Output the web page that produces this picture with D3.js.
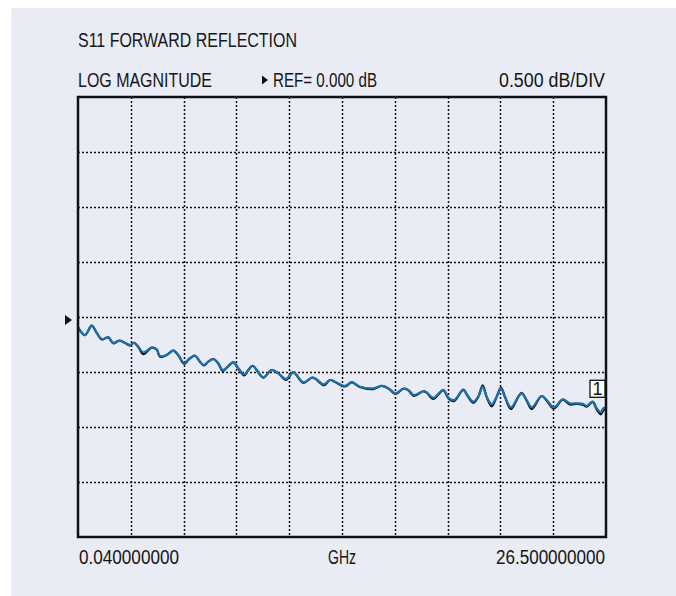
<!DOCTYPE html>
<html>
<head>
<meta charset="utf-8">
<script src="https://cdn.jsdelivr.net/npm/d3@7"></script>
<style>
    body { margin: 0; padding: 0; background: #fff; }
    svg { display: block; }
    text { font-family: "Liberation Sans Narrow", "Arial Narrow", "Liberation Sans", Arial, sans-serif; fill: #161616; }
</style>
</head>
<body>
<div id="chart"></div>
<script>
// frequency points of the trace (GHz)
var freqGHz = [0.040,0.391,0.727,0.977,1.228,1.558,1.809,2.110,2.395,2.646,2.846,3.062,3.312,3.733,3.984,4.149,4.485,4.816,5.066,5.352,
    5.652,5.903,6.154,6.354,6.570,6.820,7.071,7.291,7.492,7.823,8.073,8.374,8.574,8.795,8.995,9.326,9.747,10.078,10.464,10.830,
    11.331,11.752,11.917,12.368,12.669,12.919,13.420,13.756,14.172,14.839,15.259,15.590,15.961,16.342,16.592,16.878,17.344,17.515,17.846,18.347,
    18.597,18.883,19.349,19.549,19.850,20.100,20.321,20.521,20.772,21.022,21.238,21.438,21.739,22.105,22.275,22.526,22.776,23.277,23.528,23.894,
    24.330,24.696,25.031,25.362,25.533,25.833,26.034,26.234,26.364,26.500];

// S11 log magnitude (dB), blue trace
var s11Blue = [-0.094,-0.164,-0.079,-0.145,-0.203,-0.185,-0.239,-0.215,-0.234,-0.255,-0.234,-0.270,-0.321,-0.279,-0.294,-0.355,-0.345,-0.306,-0.345,-0.415,
    -0.375,-0.352,-0.406,-0.436,-0.406,-0.382,-0.421,-0.482,-0.461,-0.412,-0.466,-0.521,-0.482,-0.443,-0.482,-0.548,-0.482,-0.512,-0.564,-0.503,
    -0.594,-0.552,-0.557,-0.612,-0.573,-0.588,-0.627,-0.594,-0.634,-0.648,-0.627,-0.648,-0.694,-0.652,-0.664,-0.709,-0.675,-0.685,-0.734,-0.664,
    -0.734,-0.755,-0.664,-0.709,-0.770,-0.725,-0.634,-0.725,-0.794,-0.725,-0.648,-0.725,-0.821,-0.725,-0.694,-0.755,-0.821,-0.718,-0.755,-0.821,
    -0.748,-0.785,-0.785,-0.791,-0.809,-0.770,-0.830,-0.866,-0.830,-0.821];

// S11 log magnitude (dB), black trace underneath
var s11Black = [-0.094,-0.164,-0.079,-0.145,-0.203,-0.185,-0.239,-0.215,-0.236,-0.258,-0.234,-0.272,-0.338,-0.279,-0.296,-0.362,-0.345,-0.306,-0.347,-0.425,
    -0.375,-0.352,-0.408,-0.440,-0.406,-0.382,-0.423,-0.490,-0.461,-0.412,-0.468,-0.530,-0.482,-0.443,-0.484,-0.552,-0.482,-0.512,-0.572,-0.503,
    -0.598,-0.552,-0.559,-0.620,-0.573,-0.590,-0.632,-0.594,-0.636,-0.655,-0.627,-0.650,-0.700,-0.652,-0.666,-0.718,-0.675,-0.688,-0.745,-0.664,
    -0.738,-0.765,-0.660,-0.712,-0.780,-0.725,-0.622,-0.728,-0.812,-0.725,-0.642,-0.728,-0.838,-0.725,-0.690,-0.760,-0.836,-0.718,-0.760,-0.832,
    -0.752,-0.795,-0.790,-0.800,-0.815,-0.772,-0.840,-0.885,-0.850,-0.826];

var title = "S11 FORWARD REFLECTION";
var formatLabel = "LOG MAGNITUDE";
var refLabel = "REF= 0.000 dB";
var scaleLabel = "0.500 dB/DIV";
var startLabel = "0.040000000";
var unitLabel = "GHz";
var stopLabel = "26.500000000";
var markerLabel = "1";

var startGHz = 0.04, stopGHz = 26.5;
var refDb = 0, dbPerDiv = 0.5;
var xDivs = 10, yDivs = 8, refDiv = 4;   // reference line sits 4 divisions from the top

var W = 676, H = 596;
var plot = { left: 78, right: 606, top: 97, bottom: 537 };

var svg = d3.select("#chart").append("svg")
    .attr("width", W)
    .attr("height", H);

svg.append("rect")
    .attr("x", 11).attr("y", 8)
    .attr("width", W - 11).attr("height", H - 8)
    .attr("fill", "#e9ecf5");

var x = d3.scaleLinear()
    .domain([startGHz, stopGHz])
    .range([plot.left, plot.right]);

var yTop = refDb + refDiv * dbPerDiv;
var y = d3.scaleLinear()
    .domain([yTop - yDivs * dbPerDiv, yTop])
    .range([plot.bottom, plot.top]);

// dotted graticule
var xStep = (stopGHz - startGHz) / xDivs;
var xGrid = d3.range(1, xDivs).map(function(i) { return startGHz + i * xStep; });
var yGrid = d3.range(1, yDivs).map(function(i) { return yTop - i * dbPerDiv; });

var grid = svg.append("g")
    .attr("stroke", "#111")
    .attr("stroke-width", 1.5)
    .attr("stroke-dasharray", "2,2");

grid.selectAll("line.v")
    .data(xGrid)
    .enter().append("line")
    .attr("class", "v")
    .attr("x1", function(d) { return Math.round(x(d)) + 0.5; })
    .attr("x2", function(d) { return Math.round(x(d)) + 0.5; })
    .attr("y1", plot.top).attr("y2", plot.bottom);

grid.selectAll("line.h")
    .data(yGrid)
    .enter().append("line")
    .attr("class", "h")
    .attr("y1", function(d) { return Math.round(y(d)) + 0.5; })
    .attr("y2", function(d) { return Math.round(y(d)) + 0.5; })
    .attr("x1", plot.left).attr("x2", plot.right);

// traces
var line = d3.line()
    .x(function(d) { return x(d[0]); })
    .y(function(d) { return y(d[1]); })
    .curve(d3.curveCatmullRom.alpha(0.5));

svg.append("path")
    .datum(d3.zip(freqGHz, s11Black))
    .attr("fill", "none")
    .attr("stroke", "#111")
    .attr("stroke-width", 2.2)
    .attr("stroke-linejoin", "round")
    .attr("d", line);

svg.append("path")
    .datum(d3.zip(freqGHz, s11Blue))
    .attr("fill", "none")
    .attr("stroke", "#1b70ad")
    .attr("stroke-width", 2.2)
    .attr("stroke-linejoin", "round")
    .attr("d", line);

// frame
svg.append("rect")
    .attr("x", plot.left).attr("y", plot.top)
    .attr("width", plot.right - plot.left)
    .attr("height", plot.bottom - plot.top)
    .attr("fill", "none")
    .attr("stroke", "#111")
    .attr("stroke-width", 2.5);

// reference marker at left
var yRef = y(refDb) + 3;
svg.append("path")
    .attr("d", "M" + (plot.left - 13) + "," + (yRef - 5) + "L" + (plot.left - 6) + "," + yRef + "L" + (plot.left - 13) + "," + (yRef + 5) + "Z")
    .attr("fill", "#111");

// marker 1 box at the end of the trace
var mx = x(stopGHz), my = y(s11Blue[s11Blue.length - 1]) - 10;
svg.append("rect")
    .attr("x", mx - 16).attr("y", my - 17)
    .attr("width", 15).attr("height", 17)
    .attr("fill", "#fff")
    .attr("stroke", "#111")
    .attr("stroke-width", 1.3);
svg.append("text")
    .attr("x", mx - 8.5).attr("y", my - 2.5)
    .attr("text-anchor", "middle")
    .style("font-size", "18px")
    .text(markerLabel);

// labels
function label(txt, px, py, len, anchor) {
    return svg.append("text")
        .attr("x", px).attr("y", py)
        .attr("text-anchor", anchor || "start")
        .attr("textLength", len)
        .attr("lengthAdjust", "spacingAndGlyphs")
        .style("font-size", "20px")
        .text(txt);
}

label(title, 78, 47, 219);
label(formatLabel, 78, 87, 134);
label(refLabel, 273, 87, 104);
label(scaleLabel, 605, 87, 106, "end");
label(startLabel, 79, 564, 100);
label(unitLabel, x((startGHz + stopGHz) / 2), 564, 28, "middle");
label(stopLabel, 605, 564, 109, "end");

// small triangle before REF label
svg.append("path")
    .attr("d", "M262,75.5L268,80L262,84.5Z")
    .attr("fill", "#111");
</script>
</body>
</html>
